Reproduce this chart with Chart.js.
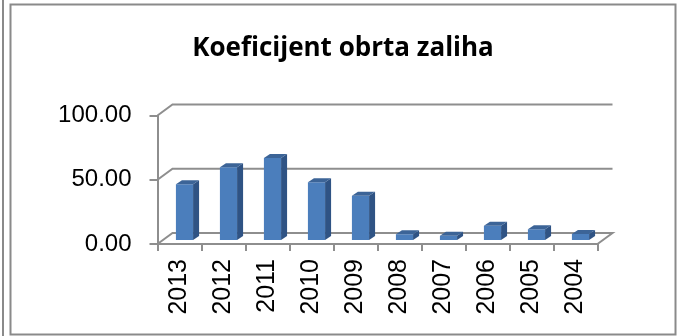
<!DOCTYPE html>
<html>
<head>
<meta charset="utf-8">
<title>Koeficijent obrta zaliha</title>
<script src="https://cdn.jsdelivr.net/npm/chart.js@4"></script>
<style>
  html, body { margin: 0; padding: 0; background: #fff; }
  #wrap { width: 679px; height: 336px; }
</style>
</head>
<body>
<div id="wrap"><canvas id="koef" width="679" height="336"></canvas></div>
<script>
const years = ['2013', '2012', '2011', '2010', '2009', '2008', '2007', '2006', '2005', '2004'];
const koeficijent = [44.2, 57.4, 64.5, 45.8, 35.3, 5.2, 4.0, 11.9, 9.1, 5.5];
const yTicks = [0, 50, 100];

const GRID = '#8e8e8e';
const FRONT = '#4b7ebc';
const SIDE = '#2f5384';
const TOP = '#3c6497';

// depth of the back wall and of each bar (pixels)
const WALL_DX = 15, WALL_DY = 11;
const BAR_DX = 5, BAR_DY = 3;
const SIDE_DX = 6, SIDE_DY = 4;

const frame = {
  id: 'frame',
  beforeDraw(chart) {
    const ctx = chart.ctx;
    ctx.save();
    ctx.fillStyle = '#fff';
    ctx.fillRect(0, 0, chart.width, chart.height);
    ctx.strokeStyle = '#8a8a8a';
    ctx.lineWidth = 2;
    ctx.strokeRect(10.5, 4.5, 665, 330);
    ctx.beginPath();
    ctx.moveTo(3, 0);
    ctx.lineTo(3, chart.height);
    ctx.stroke();
    ctx.restore();
  }
};

const depth3d = {
  id: 'depth3d',
  beforeDatasetsDraw(chart) {
    const {ctx, chartArea: a, scales: {y}} = chart;
    ctx.save();
    ctx.strokeStyle = GRID;
    ctx.lineWidth = 2;
    y.ticks.forEach(t => {
      const py = y.getPixelForValue(t.value);
      ctx.beginPath();
      ctx.moveTo(a.left, py);
      ctx.lineTo(a.left + WALL_DX, py - WALL_DY);
      ctx.lineTo(a.right + WALL_DX, py - WALL_DY);
      if (t.value === 0) ctx.lineTo(a.right, py);
      ctx.stroke();
    });
    ctx.restore();
    // bars stand a little behind the front edge of the floor
    ctx.save();
    ctx.translate(BAR_DX, -BAR_DY);
  },
  afterDatasetsDraw(chart) {
    const ctx = chart.ctx;
    chart.getDatasetMeta(0).data.forEach(bar => {
      const {x, y, width, base} = bar.getProps(['x', 'y', 'width', 'base'], true);
      const l = x - width / 2, r = x + width / 2;
      ctx.fillStyle = SIDE;
      ctx.beginPath();
      ctx.moveTo(r, y);
      ctx.lineTo(r + SIDE_DX, y - SIDE_DY);
      ctx.lineTo(r + SIDE_DX, base - SIDE_DY);
      ctx.lineTo(r, base);
      ctx.closePath();
      ctx.fill();
      ctx.fillStyle = TOP;
      ctx.beginPath();
      ctx.moveTo(l, y);
      ctx.lineTo(l + SIDE_DX, y - SIDE_DY);
      ctx.lineTo(r + SIDE_DX, y - SIDE_DY);
      ctx.lineTo(r, y);
      ctx.closePath();
      ctx.fill();
    });
    ctx.restore();
  }
};

new Chart(document.getElementById('koef'), {
  type: 'bar',
  data: {
    labels: years,
    datasets: [{
      data: koeficijent,
      backgroundColor: FRONT,
      borderWidth: 0,
      categoryPercentage: 1,
      barPercentage: 0.39
    }]
  },
  options: {
    responsive: false,
    animation: false,
    devicePixelRatio: 1,
    layout: { padding: { left: 10, right: 3, top: 0, bottom: 0 } },
    plugins: {
      legend: { display: false },
      tooltip: { enabled: false },
      title: {
        display: true,
        text: 'Koeficijent obrta zaliha',
        color: '#000',
        font: { family: 'Open Sans', size: 26, weight: 'bold', lineHeight: 1.2 },
        padding: { top: 33.4, bottom: 50.9 }
      }
    },
    scales: {
      x: {
        grid: { offset: true, drawOnChartArea: false, drawTicks: true, tickLength: 7, color: GRID, lineWidth: 2 },
        border: { display: true, color: GRID, width: 2 },
        ticks: {
          color: '#000',
          minRotation: 90,
          maxRotation: 90,
          padding: 8,
          font: { family: 'Liberation Sans', size: 25 }
        },
        afterFit: s => { s.height = 92; }
      },
      y: {
        min: 0,
        max: 100,
        afterBuildTicks: s => { s.ticks = yTicks.map(v => ({ value: v })); },
        grid: { drawOnChartArea: false, drawTicks: true, tickLength: 8, color: GRID, lineWidth: 2 },
        border: { display: true, color: GRID, width: 2 },
        ticks: {
          color: '#000',
          padding: 18,
          font: { family: 'Liberation Sans', size: 24 },
          callback: v => Number(v).toFixed(2)
        },
        afterFit: s => { s.width = 147.5; }
      },
      // empty axis on the right keeps the plot clear of the frame
      y2: {
        position: 'right',
        grid: { display: false },
        border: { display: false },
        ticks: { display: false },
        afterFit: s => { s.width = 78.5; }
      }
    }
  },
  plugins: [frame, depth3d]
});
</script>
</body>
</html>
